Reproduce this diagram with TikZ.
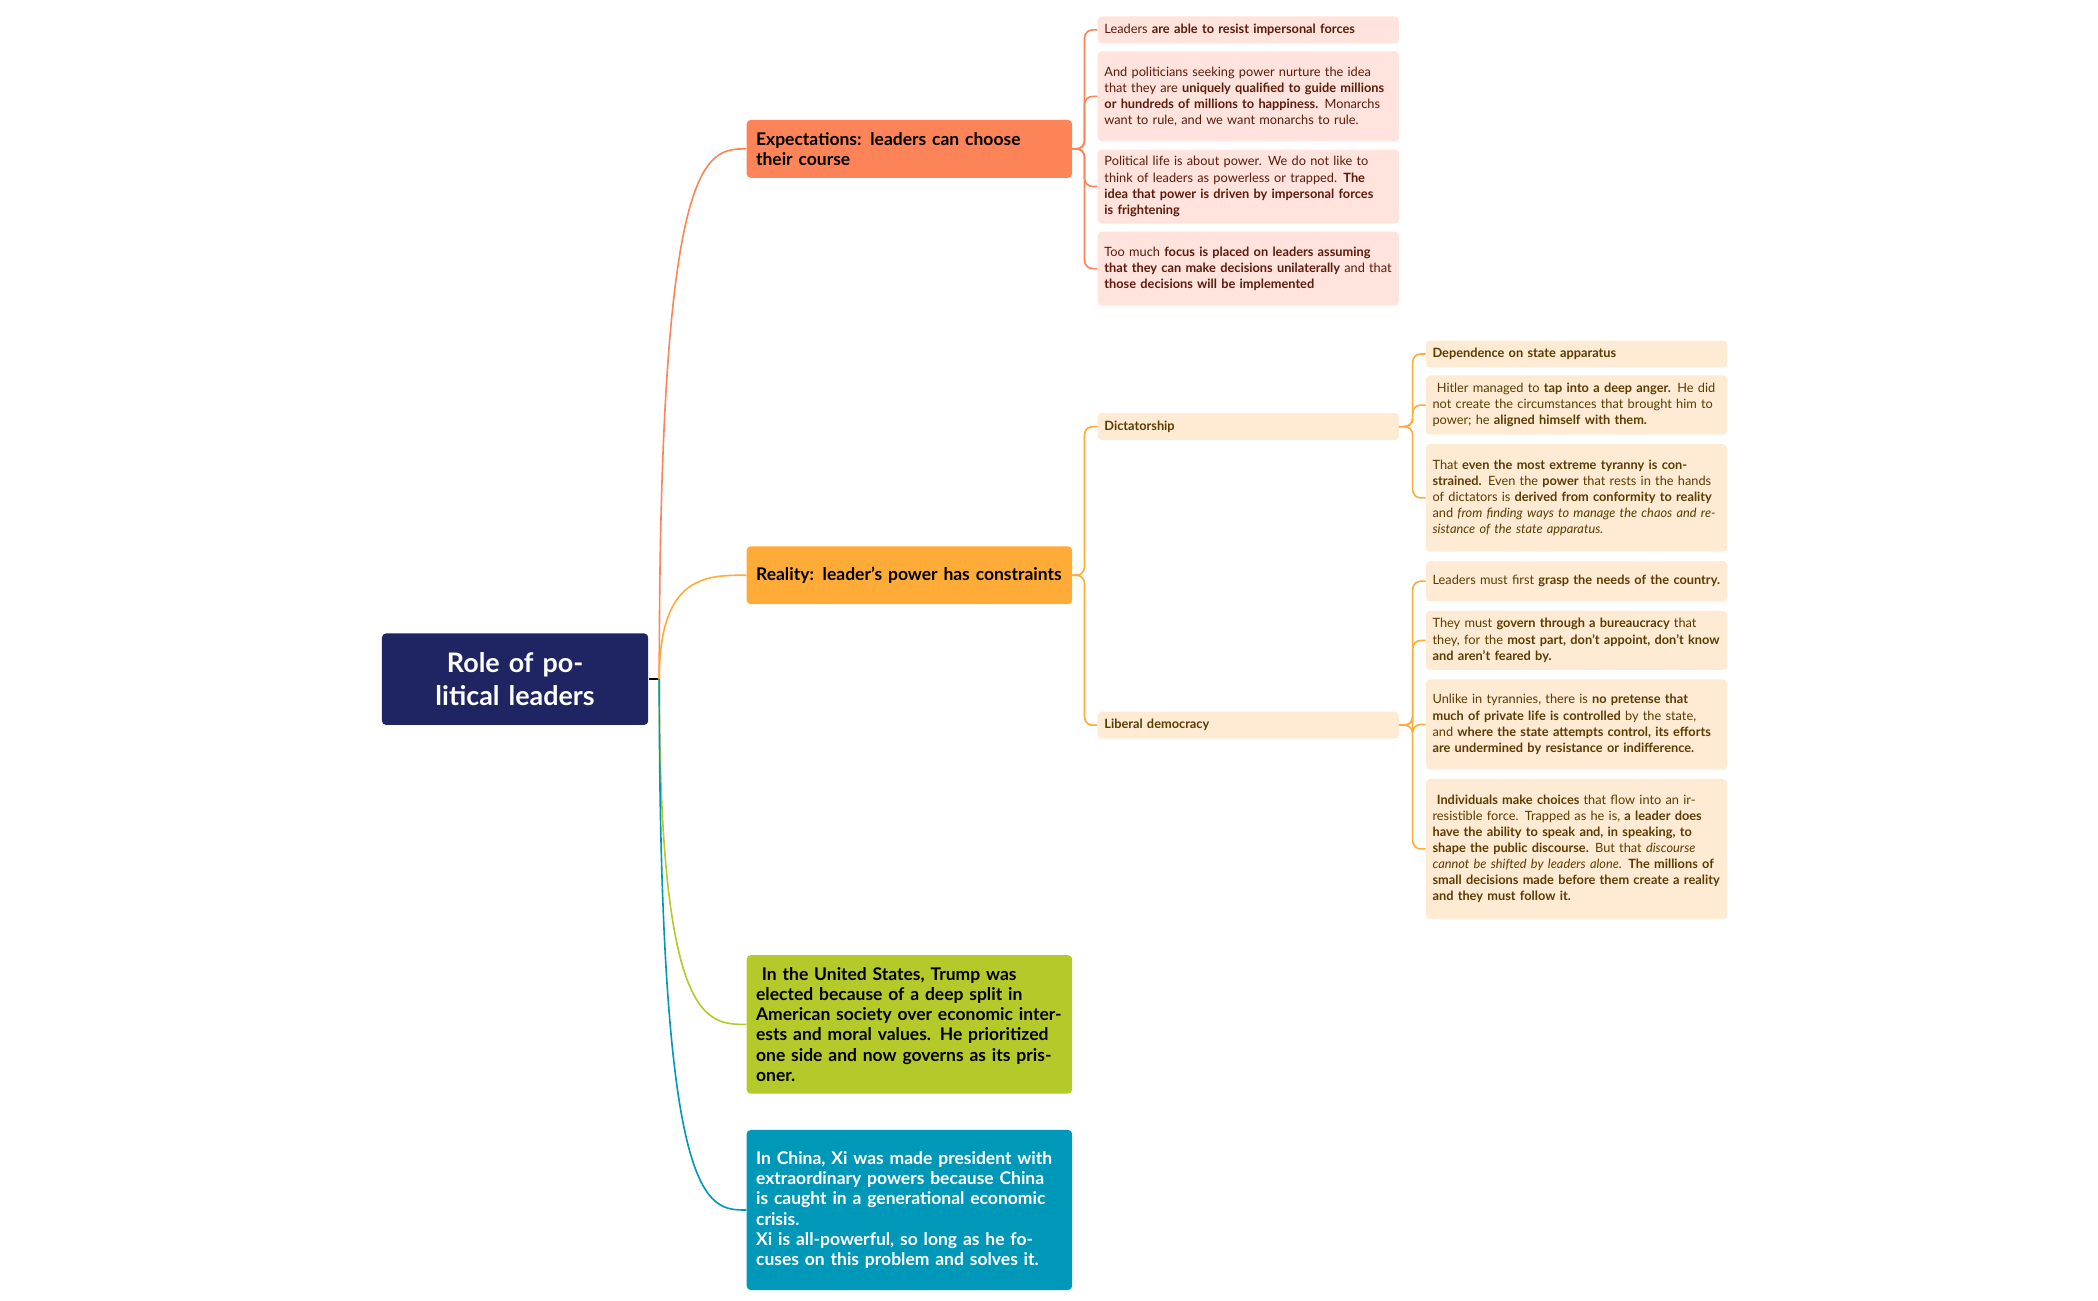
\documentclass[tikz,border=0pt]{standalone}
\usepackage{fontspec}
\setmainfont{Lato}
\begin{document}
\begin{tikzpicture}[x=1pt,y=-1pt,
 box/.style={anchor=north west,rounded corners=3pt,inner xsep=5pt,inner ysep=3pt,align=left},
 br/.style={box,minimum width=242pt,text width=228pt,inner xsep=7pt,font=\fontsize{13}{15}\selectfont\bfseries},
 pk/.style={box,fill=pinkf,text=pinkt,minimum width=224pt,text width=214pt,font=\fontsize{9.5}{12}\selectfont},
 ok/.style={box,fill=orf,text=ort,minimum width=224pt,text width=214pt,font=\fontsize{9.5}{12}\selectfont},
 con/.style={line width=1.2pt,rounded corners=6pt}]
\definecolor{navy}{HTML}{1F2563}
\definecolor{coral}{HTML}{FD8459}
\definecolor{orng}{HTML}{FFAB38}
\definecolor{lime}{HTML}{B5C92A}
\definecolor{teal}{HTML}{0098B8}
\definecolor{pinkf}{HTML}{FFE3DC}
\definecolor{pinkt}{HTML}{5C1A0A}
\definecolor{orf}{HTML}{FFEBD4}
\definecolor{ort}{HTML}{5C3A00}
\useasboundingbox (0,0) rectangle (1560,967);

\node[box,fill=navy,text=white,minimum width=198pt,minimum height=68pt,text width=180pt,align=center,anchor=center,font=\fontsize{20}{24}\selectfont\bfseries] (root) at (383,505) {Role of political leaders};

\node[br,fill=coral,minimum height=43pt] (b1) at (555,89) {Expectations: leaders can choose their course};
\node[br,fill=orng,minimum height=43pt] (b2) at (555,406) {Reality: leader's power has constraints};
\node[br,fill=lime,minimum height=103pt,inner ysep=6pt] (b3) at (555,710) {\ In the United States, Trump was elected because of a deep split in American society over economic interests and moral values. He prioritized one side and now governs as its prisoner.};
\node[br,fill=teal,text=white,minimum height=119pt,inner ysep=6pt] (b4) at (555,840) {In China, Xi was made president with extraordinary powers because China is caught in a generational economic crisis.\\Xi is all-powerful, so long as he focuses on this problem and solves it.};

\node[pk,minimum height=20pt] (p1) at (816,12) {Leaders \textbf{are able to resist impersonal forces}};
\node[pk,minimum height=67pt] (p2) at (816,38) {And politicians seeking power nurture the idea that they are \textbf{uniquely qualified to guide millions or hundreds of millions to happiness.} Monarchs want to rule, and we want monarchs to rule.};
\node[pk,minimum height=55pt] (p3) at (816,111) {Political life is about power. We do not like to think of leaders as powerless or trapped. \textbf{The idea that power is driven by impersonal forces is frightening}};
\node[pk,minimum height=55pt] (p4) at (816,172) {Too much \textbf{focus is placed on leaders assuming that they can make decisions unilaterally} and that \textbf{those decisions will be implemented}};

\node[ok,minimum height=20pt,font=\fontsize{9.5}{12}\selectfont\bfseries] (dic) at (816,307) {Dictatorship};
\node[ok,minimum height=20pt,font=\fontsize{9.5}{12}\selectfont\bfseries] (lib) at (816,529) {Liberal democracy};

\node[ok,minimum height=20pt,font=\fontsize{9.5}{12}\selectfont\bfseries] (d1) at (1060,253) {Dependence on state apparatus};
\node[ok,minimum height=44pt] (d2) at (1060,279) {\ Hitler managed to \textbf{tap into a deep anger.} He did not create the circumstances that brought him to power; he \textbf{aligned himself with them.}};
\node[ok,minimum height=80pt] (d3) at (1060,330) {That \textbf{even the most extreme tyranny is constrained.} Even the \textbf{power} that rests in the hands of dictators is \textbf{derived from conformity to reality} and \textit{from finding ways to manage the chaos and resistance of the state apparatus.}};

\node[ok,minimum height=30pt] (l1) at (1060,417) {Leaders must first \textbf{grasp the needs of the country.}};
\node[ok,minimum height=44pt] (l2) at (1060,454) {They must \textbf{govern through a bureaucracy} that they, for the \textbf{most part, don't appoint, don't know and aren't feared by.}};
\node[ok,minimum height=67pt] (l3) at (1060,505) {Unlike in tyrannies, there is \textbf{no pretense that much of private life is controlled} by the state, and \textbf{where the state attempts control, its efforts are undermined by resistance or indifference.}};
\node[ok,minimum height=104pt] (l4) at (1060,579) {\ \textbf{Individuals make choices} that flow into an irresistible force. Trapped as he is, \textbf{a leader does have the ability to speak and, in speaking, to shape the public discourse.} But that \textit{discourse cannot be shifted by leaders alone.} \textbf{The millions of small decisions made before them create a reality and they must follow it.}};

\coordinate (r0) at ([xshift=8pt]root.east);
\draw[line width=1.2pt] (root.east) -- (r0);
\foreach \b/\c in {b1/coral,b2/orng,b3/lime,b4/teal}{
 \draw[\c,line width=1.2pt] (r0) .. controls (r0 |- \b.west) and ([xshift=-30pt]\b.west) .. (\b.west);
}
\foreach \l in {p1,p2,p3,p4}{\draw[con,coral] (b1.east) -- ++(9,0) |- (\l.west);}
\foreach \l in {dic,lib}{\draw[con,orng] (b2.east) -- ++(9,0) |- (\l.west);}
\foreach \l in {d1,d2,d3}{\draw[con,orng] (dic.east) -- ++(10,0) |- (\l.west);}
\foreach \l in {l1,l2,l3,l4}{\draw[con,orng] (lib.east) -- ++(10,0) |- (\l.west);}
\end{tikzpicture}
\end{document}
